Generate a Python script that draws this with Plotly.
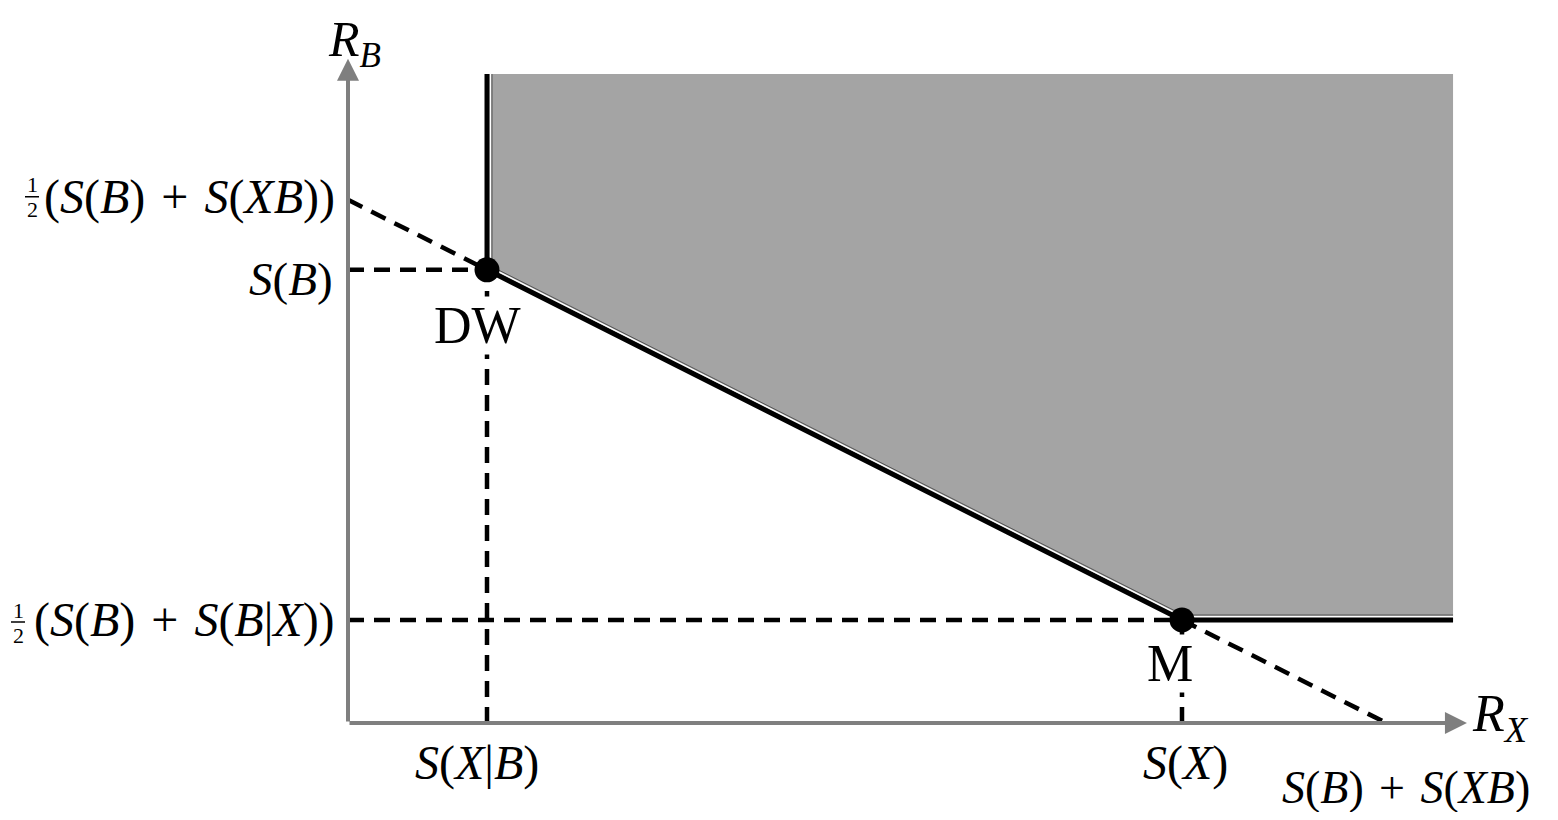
import numpy as np
import plotly.graph_objects as go

# rate-region corner values (arbitrary units)
s_x_given_b = 1.0      # S(X|B)
s_x = 6.0              # S(X)
s_b = 4.4              # S(B)
half_b_given_x = 1.0   # 1/2 (S(B) + S(B|X))
half_b_xb = 5.08       # 1/2 (S(B) + S(XB))
sum_b_xb = 7.47        # S(B) + S(XB)
x_max, y_max = 7.95, 6.3
x_tip, y_tip = 8.05, 6.45

PX_X, PX_Y = 139.0, 103.0   # pixels per unit
W, H = 1542, 804            # page body keeps an 8px margin
X0_PX, Y0_PX = 340, 715     # origin inside the figure
GRAY_AX = "#7f7f7f"
FILL = "#a4a4a4"
SERIF = "Liberation Serif"

region_x = [s_x_given_b, s_x_given_b, s_x, x_max, x_max]
region_y = [y_max, s_b, half_b_given_x, half_b_given_x, y_max]
edge_x = region_x[:4]
edge_y = region_y[:4]


def inner_offset(xs, ys, d=3.0):
    # shift the boundary polyline a few pixels into the region
    pts = np.column_stack([np.array(xs) * PX_X, np.array(ys) * PX_Y])
    out = []
    for i in range(len(pts)):
        normals = []
        for j in (i - 1, i):
            if 0 <= j < len(pts) - 1:
                t = pts[j + 1] - pts[j]
                normals.append(np.array([-t[1], t[0]]) / np.hypot(*t))
        n = sum(normals)
        n = n / np.hypot(*n)
        n = n / max(np.dot(n, normals[0]), 0.3)
        out.append(pts[i] + d * n)
    out = np.array(out)
    return out[:, 0] / PX_X, out[:, 1] / PX_Y


fig = go.Figure()
fig.add_scatter(x=region_x + [region_x[0]], y=region_y + [region_y[0]], fill="toself",
                fillcolor=FILL, line=dict(width=0), mode="lines", hoverinfo="skip")

dash = dict(color="black", width=4.5, dash="16px,10px")
fig.add_scatter(x=[0, s_x_given_b], y=[half_b_xb, s_b], mode="lines", line=dash)
fig.add_scatter(x=[s_x, sum_b_xb], y=[half_b_given_x, 0], mode="lines", line=dash)
fig.add_scatter(x=[0, s_x_given_b], y=[s_b, s_b], mode="lines", line=dash)
fig.add_scatter(x=[s_x_given_b, s_x_given_b], y=[0, s_b], mode="lines", line=dash)
fig.add_scatter(x=[0, s_x], y=[half_b_given_x, half_b_given_x], mode="lines", line=dash)
fig.add_scatter(x=[s_x, s_x], y=[0, half_b_given_x], mode="lines", line=dash)

fig.add_scatter(x=edge_x, y=edge_y, mode="lines", line=dict(color="black", width=5))
ox, oy = inner_offset(edge_x, edge_y, d=3.5)
fig.add_scatter(x=ox, y=oy, mode="lines", line=dict(color="white", width=1.3))
ox2, oy2 = inner_offset(edge_x, edge_y, d=5.0)
fig.add_scatter(x=ox2, y=oy2, mode="lines", line=dict(color="#555555", width=1))

fig.add_scatter(x=[s_x_given_b, s_x], y=[s_b, half_b_given_x], mode="markers",
                marker=dict(color="black", size=25))

# axes with arrows
for tx, ty in [(x_tip, 0), (0, y_tip)]:
    fig.add_annotation(x=tx, y=ty, ax=0, ay=0, xref="x", yref="y", axref="x", ayref="y",
                       text="", showarrow=True, arrowhead=2, arrowsize=1.1,
                       arrowwidth=4, arrowcolor=GRAY_AX)


def label(x, y, text, size=48, xanchor="center", yanchor="middle", xshift=0, yshift=0,
          bg=None):
    fig.add_annotation(x=x, y=y, xref="x", yref="y", text=text, showarrow=False,
                       font=dict(family=SERIF, size=size, color="black"),
                       xanchor=xanchor, yanchor=yanchor, xshift=xshift, yshift=yshift,
                       bgcolor=bg, borderpad=0)


def frac(x, y, dx, dy):
    # small stacked 1/2 in front of a label, dx/dy in pixels from (x, y)
    for digit, off in (("1", 12), ("2", -13)):
        fig.add_annotation(x=x, y=y, xref="x", yref="y", text=digit, showarrow=False,
                           font=dict(family=SERIF, size=22, color="black"),
                           xanchor="center", yanchor="middle", xshift=dx, yshift=dy + off)
    fig.add_shape(type="line", xref="x", yref="y", xsizemode="pixel", ysizemode="pixel",
                  xanchor=x, yanchor=y, x0=dx - 7, x1=dx + 7, y0=dy, y1=dy,
                  line=dict(color="black", width=1.5))


S = "<i>S</i>"
PLUS = "\u2004+\u2004"
label(0, y_tip, "<i>R</i><sub><i>B</i></sub>", size=50, xshift=6, yshift=16)
label(x_tip, 0, "<i>R</i><sub><i>X</i></sub>", size=52, xanchor="left", xshift=4, yshift=6)
label(0, half_b_xb, f"({S}(<i>B</i>){PLUS}{S}(<i>XB</i>))", xanchor="right", xshift=-12, yshift=3)
frac(0, half_b_xb, -316, 3)
label(0, s_b, f"{S}(<i>B</i>)", size=47, xanchor="right", xshift=-14, yshift=-9)
label(0, half_b_given_x, f"({S}(<i>B</i>){PLUS}{S}(<i>B</i>|<i>X</i>))", xanchor="right",
      xshift=-12, yshift=0)
frac(0, half_b_given_x, -330, -2)
label(s_x_given_b, 0, f"{S}(<i>X</i>|<i>B</i>)", yanchor="top", xshift=-10, yshift=-12)
label(s_x, 0, f"{S}(<i>X</i>)", yanchor="top", xshift=3, yshift=-12)
label(sum_b_xb, 0, f"{S}(<i>B</i>){PLUS}{S}(<i>XB</i>)", size=46, yanchor="top",
      xshift=20, yshift=-38)
label(s_x_given_b, s_b, "DW", size=52, yanchor="top", xshift=-10, yshift=-26, bg="white")
label(s_x, half_b_given_x, "M", size=52, yanchor="top", xshift=-12, yshift=-14, bg="white")

fig.update_layout(
    width=W, height=H, margin=dict(l=0, r=0, t=0, b=0),
    plot_bgcolor="white", paper_bgcolor="white", showlegend=False,
    xaxis=dict(range=[-X0_PX / PX_X, (W - X0_PX) / PX_X], visible=False, fixedrange=True),
    yaxis=dict(range=[-(H - Y0_PX) / PX_Y, Y0_PX / PX_Y], visible=False, fixedrange=True),
)
fig.write_html("out.html")
